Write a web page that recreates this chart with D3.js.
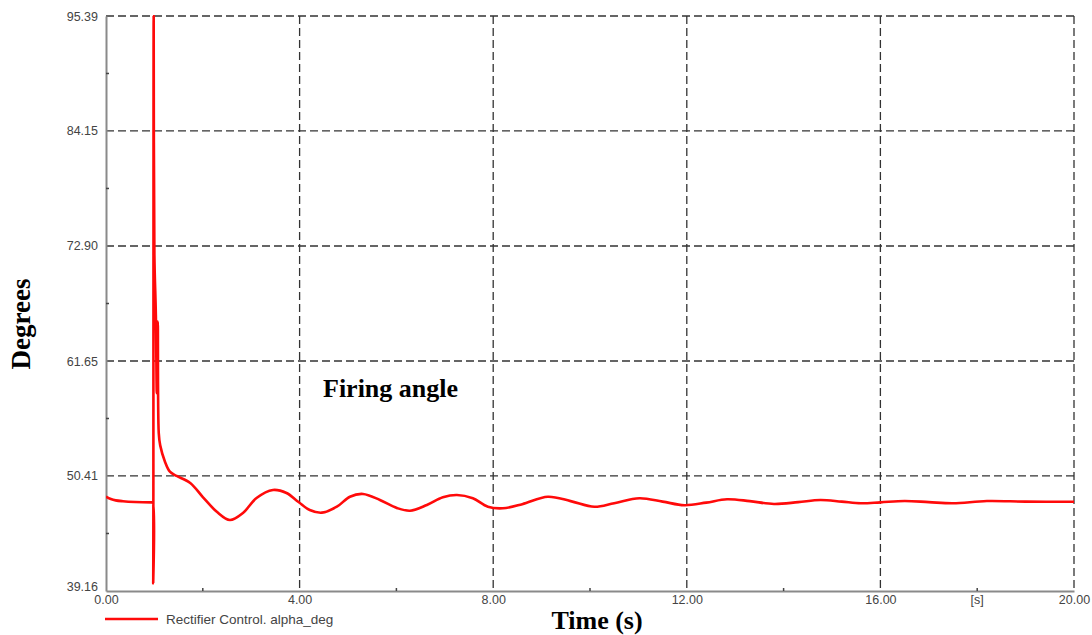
<!DOCTYPE html>
<html>
<head>
<meta charset="utf-8">
<script src="https://cdn.jsdelivr.net/npm/d3@7"></script>
<style>
  body { margin: 0; background: #fff; }
  svg { display: block; }
</style>
</head>
<body>
<figure style="margin:0"></figure>
<script>
// time (s) and firing angle (deg)
const times = [
  0, 0.1, 0.2, 0.35, 0.6, 0.94, 0.965, 0.975, 0.985, 1.0, 1.03, 1.05, 1.07, 1.09, 1.12,
  1.22, 1.32, 1.46, 1.74, 2.0, 2.29, 2.56, 2.83, 3.11, 3.45, 3.73, 3.97, 4.21, 4.46,
  4.77, 5.04, 5.31, 5.66, 6.01, 6.28, 6.63, 6.96, 7.25, 7.58, 7.89, 8.2, 8.6, 9.13,
  9.6, 10.09, 10.5, 11.02, 11.5, 11.95, 12.4, 12.83, 13.3, 13.8, 14.3, 14.76, 15.2,
  15.6, 16.0, 16.5, 17.0, 17.5, 18.2, 19.0, 20.0
];
const alphaDeg = [
  48.38, 48.15, 48.02, 47.94, 47.87, 47.83, 47.83, 39.9, 95.39, 72.0, 66.2, 58.5, 65.5, 54.6, 53.4,
  51.78, 50.83, 50.41, 49.72, 48.35, 46.9, 46.1, 46.79, 48.25, 49.04, 48.74, 47.89, 47.08, 46.82,
  47.4, 48.38, 48.65, 48.06, 47.28, 47.01, 47.57, 48.32, 48.55, 48.23, 47.4, 47.25, 47.65, 48.38,
  47.95, 47.4, 47.75, 48.23, 47.9, 47.55, 47.8, 48.13, 47.95, 47.67, 47.85, 48.06, 47.9,
  47.74, 47.83, 47.96, 47.85, 47.74, 47.96, 47.9, 47.89
];
const yTicks = [39.16, 50.41, 61.65, 72.90, 84.15, 95.39];
const xTicks = [0, 4, 8, 12, 16, 20];
const xMinor = [2, 6, 10, 14, 18];

const width = 1092;
const height = 635;
const margin = { left: 106, right: 18, top: 16, bottom: 44 };

const svg = d3.select("figure").append("svg")
  .attr("width", width).attr("height", height);

const x = d3.scaleLinear().domain([0, 20]).range([margin.left, width - margin.right]);
const y = d3.scaleLinear().domain([39.16, 95.39]).range([height - margin.bottom, margin.top]);

const gridColor = "#333";
const axisColor = "#8a8a8a";
const tickFont = "Arial, 'Liberation Sans', sans-serif";
const tickSize = 12.5;

svg.append("clipPath").attr("id", "plot-clip")
  .append("rect")
  .attr("x", x(0)).attr("y", y(95.39) - 1)
  .attr("width", x(20) - x(0)).attr("height", y(39.16) - y(95.39) + 1);

// horizontal grid lines (top one is the dashed frame)
svg.append("g")
  .selectAll("line")
  .data(yTicks.slice(1))
  .join("line")
  .attr("x1", x(0)).attr("x2", x(20))
  .attr("y1", (d) => y(d)).attr("y2", (d) => y(d))
  .attr("stroke", gridColor)
  .attr("stroke-width", 1.3)
  .attr("stroke-dasharray", "8,4");

// vertical grid lines (right one is the dashed frame)
svg.append("g")
  .selectAll("line")
  .data(xTicks.slice(1))
  .join("line")
  .attr("x1", (d) => x(d)).attr("x2", (d) => x(d))
  .attr("y1", y(95.39)).attr("y2", y(39.16))
  .attr("stroke", gridColor)
  .attr("stroke-width", 1.3)
  .attr("stroke-dasharray", "8,4");

// left and bottom axes
const yAxis = d3.axisLeft(y).tickValues(yTicks).tickFormat(d3.format(".2f")).tickSize(0).tickPadding(8);
const yAxisG = svg.append("g").attr("transform", `translate(${x(0)},0)`).call(yAxis);
yAxisG.select(".domain").attr("stroke", axisColor).attr("stroke-width", 2);
yAxisG.selectAll("text")
  .attr("font-family", tickFont).attr("font-size", tickSize).attr("fill", "#444");
yAxisG.selectAll(".tick").filter((d) => d === 39.16).select("text").attr("dy", "-0.05em");

const xAxis = d3.axisBottom(x).tickValues(xTicks).tickFormat(d3.format(".2f")).tickSize(0).tickPadding(4);
const xAxisG = svg.append("g").attr("transform", `translate(0,${y(39.16)})`).call(xAxis);
xAxisG.select(".domain").attr("stroke", axisColor).attr("stroke-width", 2);
xAxisG.selectAll("text")
  .attr("font-family", tickFont).attr("font-size", tickSize).attr("fill", "#444");

svg.append("text")
  .attr("x", x(18)).attr("y", y(39.16) + 4)
  .attr("dy", "0.71em")
  .attr("text-anchor", "middle")
  .attr("font-family", tickFont).attr("font-size", tickSize).attr("fill", "#444")
  .text("[s]");

// minor ticks
const yMinor = yTicks.slice(0, -1).map((d, i) => (d + yTicks[i + 1]) / 2);
svg.append("g")
  .selectAll("line")
  .data(yMinor)
  .join("line")
  .attr("x1", x(0)).attr("x2", x(0) + 3)
  .attr("y1", (d) => y(d)).attr("y2", (d) => y(d))
  .attr("stroke", "#444").attr("stroke-width", 1.5);

svg.append("g")
  .selectAll("line")
  .data(xMinor)
  .join("line")
  .attr("x1", (d) => x(d)).attr("x2", (d) => x(d))
  .attr("y1", y(39.16)).attr("y2", y(39.16) - 3)
  .attr("stroke", "#444").attr("stroke-width", 1.5);

// signal
const points = times.map((t, i) => [t, alphaDeg[i]]);
const line = d3.line()
  .x((d) => x(d[0]))
  .y((d) => y(d[1]))
  .curve(d3.curveCatmullRom.alpha(0.5));

svg.append("path")
  .datum(points)
  .attr("clip-path", "url(#plot-clip)")
  .attr("d", line)
  .attr("fill", "none")
  .attr("stroke", "#ff0a0a")
  .attr("stroke-width", 2.6)
  .attr("stroke-linejoin", "round");

// legend
svg.append("line")
  .attr("x1", 105).attr("x2", 158)
  .attr("y1", 619).attr("y2", 619)
  .attr("stroke", "#ff0a0a").attr("stroke-width", 2.6);
svg.append("text")
  .attr("x", 166).attr("y", 623.5)
  .attr("font-family", tickFont).attr("font-size", 13.5).attr("fill", "#444")
  .text("Rectifier Control. alpha_deg");

// titles
const serif = "'Times New Roman', 'Liberation Serif', 'DejaVu Serif', serif";
svg.append("text")
  .attr("x", 597).attr("y", 629)
  .attr("text-anchor", "middle")
  .attr("font-family", serif).attr("font-weight", "bold").attr("font-size", 26)
  .text("Time (s)");

svg.append("text")
  .attr("transform", "translate(30,324) rotate(-90)")
  .attr("text-anchor", "middle")
  .attr("font-family", serif).attr("font-weight", "bold").attr("font-size", 27)
  .text("Degrees");

svg.append("text")
  .attr("x", 323).attr("y", 397)
  .attr("font-family", serif).attr("font-weight", "bold").attr("font-size", 26)
  .text("Firing angle");
</script>
</body>
</html>
